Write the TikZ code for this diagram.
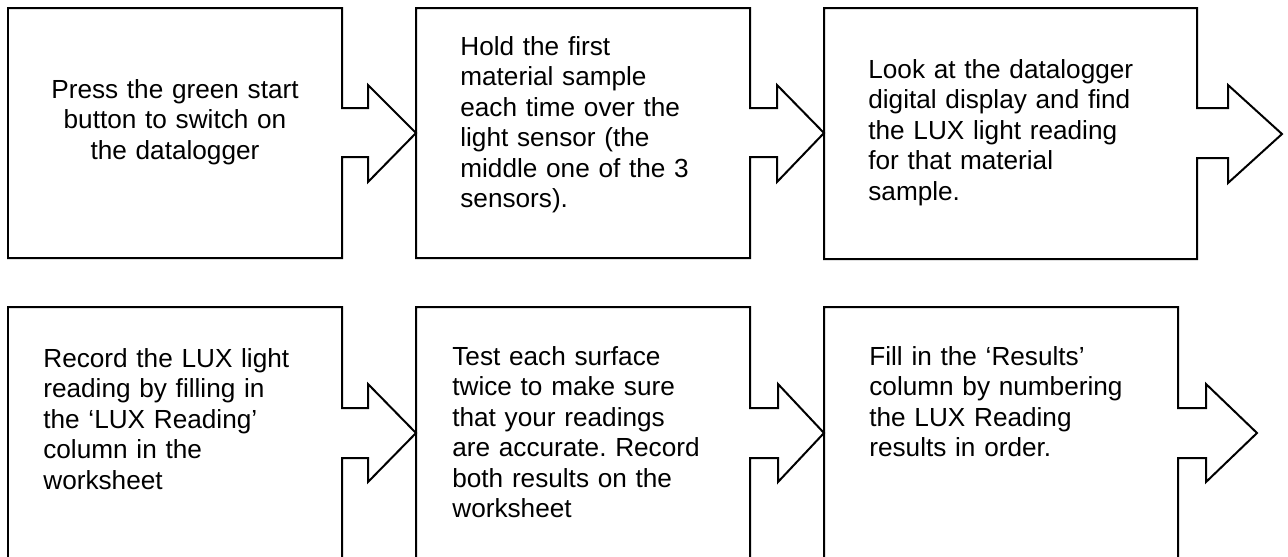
\documentclass[tikz,border=0pt]{standalone}
\usepackage{fontspec}
\setmainfont{Liberation Sans}
\frenchspacing

\tikzstyle{stepOutline} = [line width = 0.04cm,
                           line join = miter
                           ]
\tikzstyle{stepText} = [text width = 6.5cm,
                        anchor = base west,
                        inner sep = 0pt,
                        align = left,
                        font = \fontsize{14.9}{17.4}\selectfont
                        ]
\tikzstyle{stepCentre} = [text width = 6cm,
                          anchor = base,
                          inner sep = 0pt,
                          align = center,
                          font = \fontsize{14.9}{17.4}\selectfont
                          ]

\begin{document}
\begin{tikzpicture}[x = 0.02cm, y = -0.02cm]

    \useasboundingbox (0, 0) rectangle (1288, 556);
    \clip (0, 0) rectangle (1288, 556);

    %%% Top row
    % Step 1
    \draw[stepOutline] (8, 8) -- (342, 8) -- (342, 108) -- (368, 108) -- (368, 85)
        -- (416, 133) -- (368, 182) -- (368, 157) -- (342, 157) -- (342, 258) -- (8, 258) -- cycle;
    \node (S1) at (175, 98) [stepCentre]{Press the green start\\ button to switch on\\ the datalogger};

    % Step 2
    \draw[stepOutline] (416, 8) -- (750, 8) -- (750, 108) -- (777, 108) -- (777, 85)
        -- (824, 133) -- (777, 182) -- (777, 157) -- (750, 157) -- (750, 258) -- (416, 258) -- cycle;
    \node (S2) at (460, 55) [stepText]{Hold the first\\ material sample\\ each time over the\\ light sensor (the\\ middle one of the 3\\ sensors).};

    % Step 3
    \draw[stepOutline] (824, 8) -- (1197, 8) -- (1197, 108) -- (1228, 108) -- (1228, 85)
        -- (1282, 134) -- (1228, 183) -- (1228, 158) -- (1197, 158) -- (1197, 259) -- (824, 259) -- cycle;
    \node (S3) at (868, 78) [stepText]{Look at the datalogger\\ digital display and find\\ the LUX light reading\\ for that material\\ sample.};

    %%% Bottom row
    % Step 4
    \draw[stepOutline] (8, 570) -- (8, 307) -- (342, 307) -- (342, 408) -- (368, 408) -- (368, 384)
        -- (416, 433) -- (368, 482) -- (368, 458) -- (342, 458) -- (342, 570);
    \node (S4) at (43, 367) [stepText]{Record the LUX light\\ reading by filling in\\ the `LUX Reading'\\ column in the\\ worksheet};

    % Step 5
    \draw[stepOutline] (416, 570) -- (416, 307) -- (750, 307) -- (750, 408) -- (778, 408) -- (778, 384)
        -- (824, 433) -- (778, 482) -- (778, 458) -- (750, 458) -- (750, 570);
    \node (S5) at (452, 365) [stepText]{Test each surface\\ twice to make sure\\ that your readings\\ are accurate. Record\\ both results on the\\ worksheet};

    % Step 6
    \draw[stepOutline] (824, 570) -- (824, 307) -- (1178, 307) -- (1178, 408) -- (1206, 408) -- (1206, 384)
        -- (1257, 433) -- (1206, 482) -- (1206, 458) -- (1178, 458) -- (1178, 570);
    \node (S6) at (869, 365) [stepText]{Fill in the `Results'\\ column by numbering\\ the LUX Reading\\ results in order.};

\end{tikzpicture}
\end{document}
